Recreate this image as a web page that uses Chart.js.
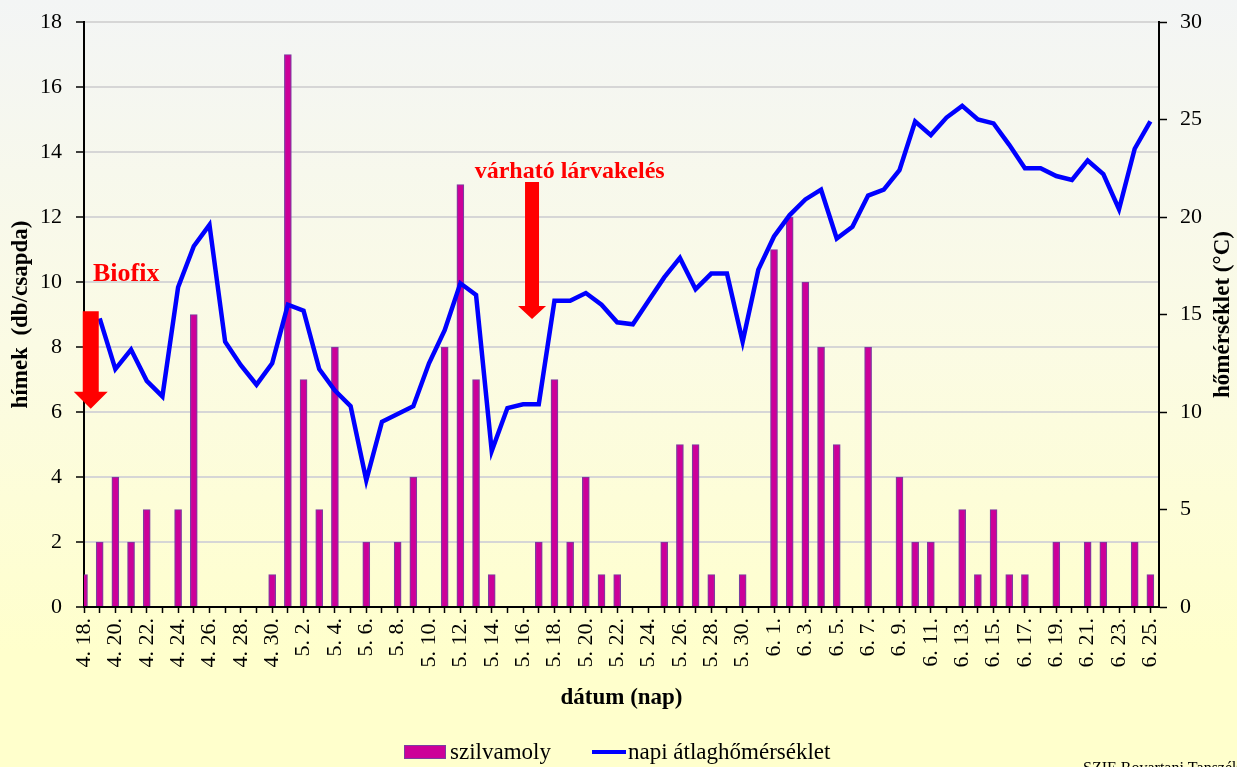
<!DOCTYPE html>
<html>
<head>
<meta charset="utf-8">
<script src="https://cdn.jsdelivr.net/npm/chart.js@4.4.1/dist/chart.umd.min.js"></script>
<style>
  html, body { margin: 0; padding: 0; overflow: hidden; }
  #wrap {
    position: relative; width: 1237px; height: 767px;
    background: linear-gradient(to bottom, #f3f5f5 0%, #fbfbe4 45%, #ffffcc 85%, #ffffcc 100%);
    font-family: "Liberation Serif", "DejaVu Serif", serif;
  }
  .leg { position: absolute; top: 738px; height: 28px; line-height: 28px; font-size: 23px; color: #000; white-space: nowrap; }
  .box { position: absolute; left: 404px; top: 745px; width: 40px; height: 12px; background: #cc0099; border: 1.5px solid #7b3da0; }
  .ln { position: absolute; left: 592px; top: 750px; width: 34px; height: 4px; background: #0000ff; }
</style>
</head>
<body>
<div id="wrap">
  <canvas id="myChart"></canvas>
  <div class="box"></div><div class="leg" style="left:450px">szilvamoly</div>
  <div class="ln"></div><div class="leg" style="left:628px">napi átlaghőmérséklet</div>
</div>
<script>
// dates 4.18 - 6.25, one per day
const dates = ['4. 18.','4. 19.','4. 20.','4. 21.','4. 22.','4. 23.','4. 24.','4. 25.','4. 26.','4. 27.','4. 28.','4. 29.','4. 30.',
  '5. 1.','5. 2.','5. 3.','5. 4.','5. 5.','5. 6.','5. 7.','5. 8.','5. 9.','5. 10.','5. 11.','5. 12.','5. 13.','5. 14.','5. 15.','5. 16.',
  '5. 17.','5. 18.','5. 19.','5. 20.','5. 21.','5. 22.','5. 23.','5. 24.','5. 25.','5. 26.','5. 27.','5. 28.','5. 29.','5. 30.','5. 31.',
  '6. 1.','6. 2.','6. 3.','6. 4.','6. 5.','6. 6.','6. 7.','6. 8.','6. 9.','6. 10.','6. 11.','6. 12.','6. 13.','6. 14.','6. 15.','6. 16.',
  '6. 17.','6. 18.','6. 19.','6. 20.','6. 21.','6. 22.','6. 23.','6. 24.','6. 25.'];

// himek (db/csapda)
const szilvamoly = [1,2,4,2,3,0,3,9,0,0,0,0,1,17,7,3,8,0,2,0,2,4,0,8,13,7,1,0,0,2,7,2,4,1,1,0,0,2,5,5,1,0,1,0,
  11,12,10,8,5,0,8,0,4,2,2,0,3,1,3,1,1,0,2,0,2,2,0,2,1];

// napi atlaghomerseklet (°C)
const homerseklet = [null,14.8,12.2,13.2,11.6,10.8,16.4,18.5,19.6,13.6,12.4,11.4,12.5,15.5,15.2,12.2,11.1,10.3,6.5,9.5,9.9,10.3,
  12.5,14.2,16.6,16.0,8.0,10.2,10.4,10.4,15.7,15.7,16.1,15.5,14.6,14.5,15.7,16.9,17.9,16.3,17.1,17.1,13.6,17.3,
  19.0,20.1,20.9,21.4,18.9,19.5,21.1,21.4,22.4,24.9,24.2,25.1,25.7,25.0,24.8,23.7,22.5,22.5,22.1,21.9,22.9,22.2,20.4,23.5,24.9];

const yTicks = [0,2,4,6,8,10,12,14,16,18];
const tTicks = [0,5,10,15,20,25,30];

const serif = '"Liberation Serif", "DejaVu Serif", serif';

const notes = {
  id: 'notes',
  afterDatasetsDraw(chart) {
    const {ctx, scales: {x, y}} = chart;
    ctx.save();
    ctx.fillStyle = '#ff0000';
    arrow(ctx, x.getPixelForValue(0.43), y.getPixelForValue(9.1), y.getPixelForValue(6.1), 16, 34, 17);
    arrow(ctx, x.getPixelForValue(28.57), y.getPixelForValue(13.08), y.getPixelForValue(8.86), 14, 28, 13);
    ctx.font = 'bold 26px ' + serif;
    ctx.textAlign = 'left';
    ctx.textBaseline = 'alphabetic';
    ctx.fillText('Biofix', x.getPixelForValue(0.57), y.getPixelForValue(10.03));
    ctx.font = 'bold 24px ' + serif;
    ctx.textAlign = 'center';
    ctx.fillText('várható lárvakelés', x.getPixelForValue(30.97), y.getPixelForValue(13.2));
    ctx.restore();
  },
  afterDraw(chart) {
    const ctx = chart.ctx;
    ctx.save();
    ctx.fillStyle = '#000';
    ctx.font = 'bold 23px ' + serif;
    ctx.translate(1223, (chart.chartArea.top + chart.chartArea.bottom) / 2);
    ctx.rotate(-Math.PI / 2);
    ctx.textAlign = 'center';
    ctx.textBaseline = 'middle';
    ctx.fillText('hőmérséklet (°C)', 0, 0);
    ctx.restore();
    ctx.save();
    ctx.fillStyle = '#000';
    ctx.font = '16px ' + serif;
    ctx.fillText('SZIE Rovartani Tanszék', 1083, 773);
    ctx.restore();
  }
};

function arrow(ctx, cx, top, tip, shaftW, headW, headH) {
  ctx.beginPath();
  ctx.moveTo(cx - shaftW / 2, top);
  ctx.lineTo(cx + shaftW / 2, top);
  ctx.lineTo(cx + shaftW / 2, tip - headH);
  ctx.lineTo(cx + headW / 2, tip - headH);
  ctx.lineTo(cx, tip);
  ctx.lineTo(cx - headW / 2, tip - headH);
  ctx.lineTo(cx - shaftW / 2, tip - headH);
  ctx.closePath();
  ctx.fill();
}

function fitY(width) {
  return (s) => { s.width = width; s.paddingTop = 0; s.paddingBottom = 0; };
}

const ctx = document.getElementById('myChart').getContext('2d');
const myChart = new Chart(ctx, {
  type: 'bar',
  data: {
    datasets: [
      {
        type: 'line',
        label: 'napi átlaghőmérséklet',
        data: homerseklet.map((v, i) => ({x: i, y: v})),
        borderColor: '#0000ff',
        borderWidth: 4.5,
        pointRadius: 0,
        tension: 0,
        yAxisID: 'y1',
        order: 0
      },
      {
        label: 'szilvamoly',
        data: szilvamoly.map((v, i) => ({x: i, y: v})),
        backgroundColor: '#cc0099',
        borderColor: '#7b3da0',
        borderWidth: 1.2,
        barThickness: 7,
        clip: 0,
        yAxisID: 'y',
        order: 1
      }
    ]
  },
  options: {
    responsive: true,
    maintainAspectRatio: false,
    animation: false,
    layout: { padding: { top: 22, right: 0, bottom: 55, left: 0 } },
    plugins: { legend: { display: false }, tooltip: { enabled: false } },
    scales: {
      x: {
        type: 'linear',
        offset: false,
        min: 0,
        max: 68.55,
        bounds: 'data',
        afterFit: (s) => { s.height = 105; },
        grid: { drawOnChartArea: false, offset: false, tickLength: 6, tickColor: '#000', tickWidth: 1.5 },
        border: { color: '#000', width: 2 },
        ticks: {
          stepSize: 1,
          includeBounds: false,
          autoSkip: false,
          maxTicksLimit: 100,
          minRotation: 90,
          maxRotation: 90,
          padding: 5,
          color: '#000',
          font: { family: serif, size: 22 },
          callback: (v) => (v % 2 === 0 ? dates[v] : '')
        },
        title: { display: true, text: 'dátum (nap)', color: '#000', font: { family: serif, size: 23, weight: 'bold' }, padding: 0 }
      },
      y: {
        position: 'left',
        min: 0,
        max: 18,
        afterFit: fitY(84),
        afterBuildTicks: (s) => { s.ticks = yTicks.map(v => ({value: v})); },
        grid: { color: '#d6d6d6', lineWidth: 2, tickLength: 8, tickColor: '#000', tickWidth: 1.5 },
        border: { color: '#000', width: 2 },
        ticks: { padding: 14, color: '#000', font: { family: serif, size: 22 } },
        title: { display: true, text: 'hímek  (db/csapda)', color: '#000', font: { family: serif, size: 23, weight: 'bold' }, padding: { top: 7, bottom: 0 } }
      },
      y1: {
        position: 'right',
        min: 0,
        max: 30,
        afterFit: fitY(78),
        afterBuildTicks: (s) => { s.ticks = tTicks.map(v => ({value: v})); },
        grid: { drawOnChartArea: false, tickLength: 8, tickColor: '#000', tickWidth: 1.5 },
        border: { color: '#000', width: 2 },
        ticks: { padding: 13, color: '#000', font: { family: serif, size: 22 } }
      }
    }
  },
  plugins: [notes]
});
</script>
</body>
</html>
